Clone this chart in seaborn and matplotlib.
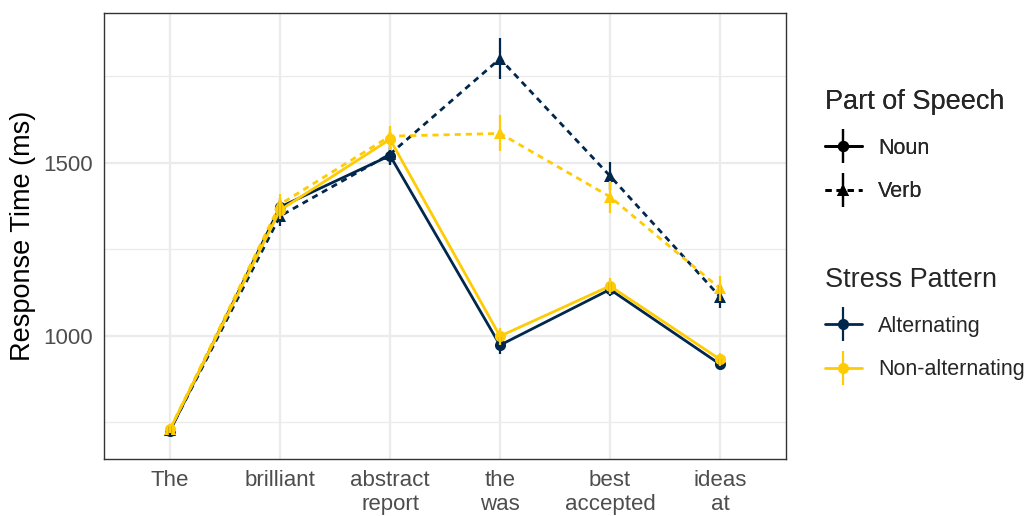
import numpy as np
import pandas as pd
import seaborn as sns
import matplotlib
matplotlib.use('Agg')
import matplotlib.pyplot as plt
from matplotlib.lines import Line2D
from matplotlib.legend_handler import HandlerTuple

sns.set_style('white')
plt.rcParams['font.family'] = ['Liberation Sans', 'DejaVu Sans']

# word positions in the sentence
words = ["The", "brilliant", "abstract\nreport", "the\nwas", "best\naccepted", "ideas\nat"]

# mean response times (ms)
alt_noun = [725, 1372, 1521, 973, 1134, 918]
alt_verb = [727, 1346, 1525, 1801, 1462, 1113]
non_noun = [730, 1363, 1568, 999, 1144, 932]
non_verb = [730, 1380, 1577, 1585, 1402, 1137]

# standard errors
alt_noun_se = [12, 25, 25, 25, 20, 15]
alt_verb_se = [12, 30, 30, 60, 40, 33]
non_noun_se = [12, 25, 30, 25, 22, 18]
non_verb_se = [12, 30, 30, 52, 46, 35]

stress_levels = ["Alternating", "Non-alternating"]
pos_levels = ["Noun", "Verb"]

rows = []
for stress, pos, vals, ses in [("Alternating", "Noun", alt_noun, alt_noun_se),
                               ("Alternating", "Verb", alt_verb, alt_verb_se),
                               ("Non-alternating", "Noun", non_noun, non_noun_se),
                               ("Non-alternating", "Verb", non_verb, non_verb_se)]:
    for i, (v, s) in enumerate(zip(vals, ses)):
        rows.append({'pos_idx': i, 'word': words[i], 'stress': stress,
                     'pos': pos, 'rt': v, 'se': s})
df = pd.DataFrame(rows)

palette = {"Alternating": "#00274C", "Non-alternating": "#FFCB05"}
markers = {"Noun": "o", "Verb": "^"}
dash_pat = (2.2, 1.8)
dashes = {"Noun": "", "Verb": dash_pat}

fig = plt.figure(figsize=(10.33, 5.16), dpi=100)
ax = fig.add_axes([104/1033, 1-459/516, (786-104)/1033, (459-13)/516])

sns.lineplot(data=df, x='pos_idx', y='rt', hue='stress', style='pos',
             hue_order=stress_levels, style_order=pos_levels,
             palette=palette, markers=markers, dashes=dashes,
             markersize=8, markeredgewidth=0, linewidth=2,
             legend=False, ax=ax, zorder=3)

# error bars
for (stress, pos), g in df.groupby(['stress', 'pos']):
    ax.errorbar(g['pos_idx'], g['rt'], yerr=g['se'], fmt='none',
                ecolor=palette[stress], elinewidth=1.6, capsize=0, zorder=3)

ax.set_xlim(-0.6, 5.6)
ax.set_ylim(644, 1933)
ax.set_xticks(range(len(words)))
ax.set_xticklabels(words)
ax.set_yticks([1000, 1500])
ax.set_yticks([750, 1250, 1750], minor=True)
ax.set_xlabel('')
ax.set_ylabel('Response Time (ms)', fontsize=19.5, color='black', labelpad=5)

ax.grid(True, which='major', color='#EBEBEB', linewidth=1.6, zorder=0)
ax.grid(True, which='minor', axis='y', color='#EBEBEB', linewidth=0.9, zorder=0)
ax.set_axisbelow(True)
for sp in ax.spines.values():
    sp.set_color('#333333')
    sp.set_linewidth(1.0)
    sp.set_visible(True)
ax.tick_params(axis='both', which='major', length=5, width=1.2, color='#333333',
               labelsize=16, labelcolor='#4D4D4D', pad=3)
ax.tick_params(axis='y', which='minor', length=0)

# legends in ggplot style: line + point + vertical error bar
def key(color, dashed, marker):
    ln = Line2D([], [], color=color, linewidth=2, marker=marker,
                markersize=8, markeredgewidth=0)
    if dashed:
        ln.set_dashes(dash_pat)
    bar = Line2D([], [], color=color, linestyle='none', marker='|',
                 markersize=24, markeredgewidth=1.6)
    return (ln, bar)

pos_handles = [key('black', False, 'o'), key('black', True, '^')]
stress_handles = [key(palette[s], False, 'o') for s in stress_levels]

leg_kw = dict(loc='upper left', frameon=False, fontsize=15.5, title_fontsize=19.5,
              handler_map={tuple: HandlerTuple(ndivide=1, pad=0)},
              handlelength=1.7, handletextpad=0.75, labelspacing=1.05,
              alignment='left', borderpad=0.2)
leg1 = fig.legend(pos_handles, pos_levels, title='Part of Speech',
                  bbox_to_anchor=(810/1033, 1-74/516), **leg_kw)
fig.add_artist(leg1)
leg2 = fig.legend(stress_handles, stress_levels, title='Stress Pattern',
                  bbox_to_anchor=(810/1033, 1-252/516), **leg_kw)

fig.savefig('out.png', dpi=100)
